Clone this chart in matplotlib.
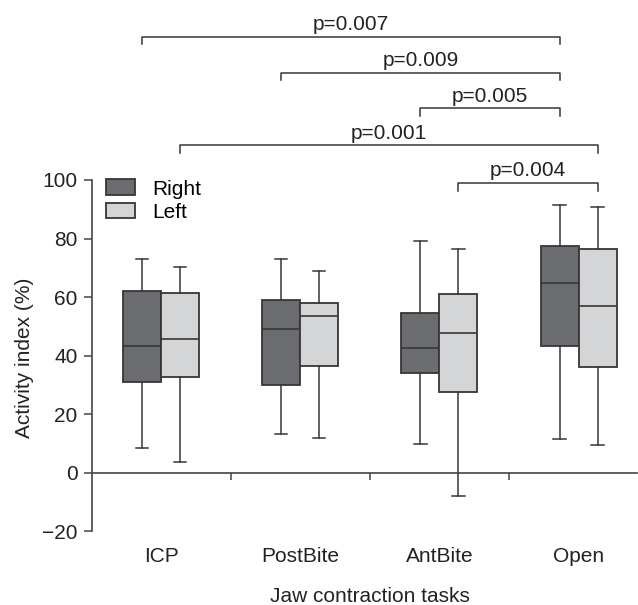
import matplotlib
matplotlib.use("Agg")
import matplotlib.pyplot as plt
import matplotlib.patches as mpatches

plt.rcParams['font.family'] = ['Liberation Sans', 'DejaVu Sans']

# --- data ---
categories = ['ICP', 'PostBite', 'AntBite', 'Open']

right_whislo = [8.5, 13.3, 9.8, 11.6]
right_q1 = [31.1, 30.0, 33.9, 43.2]
right_med = [43.2, 49.2, 42.7, 64.7]
right_q3 = [62.1, 59.1, 54.5, 77.6]
right_whishi = [73.0, 73.1, 79.3, 91.3]

left_whislo = [3.8, 11.7, -7.9, 9.4]
left_q1 = [32.7, 36.6, 27.6, 36.1]
left_med = [45.6, 53.4, 47.8, 57.1]
left_q3 = [61.4, 57.9, 61.2, 76.5]
left_whishi = [70.2, 68.8, 76.5, 90.7]

# significance brackets: (category, side) -> (category, side)
p_labels = ['p=0.007', 'p=0.009', 'p=0.005', 'p=0.001', 'p=0.004']
p_start = [(0, 'R'), (1, 'R'), (2, 'R'), (0, 'L'), (2, 'L')]
p_end = [(3, 'R'), (3, 'R'), (3, 'R'), (3, 'L'), (3, 'L')]
p_level = [149.0, 136.7, 124.5, 111.8, 99.0]

# --- styling ---
DARK = '#6b6c70'
LIGHT = '#d4d5d7'
LINE = '#363636'
FS = 15
OFF = 0.1365
BW = 0.273


def stats(lo, q1, med, q3, hi):
    return [dict(whislo=a, q1=b, med=c, q3=d, whishi=e, fliers=[])
            for a, b, c, d, e in zip(lo, q1, med, q3, hi)]


fig = plt.figure(figsize=(6.38, 6.05), dpi=100)
ax = fig.add_axes([91.5 / 638, 73.8 / 605, 545.5 / 638, 531.2 / 605])

xs = list(range(len(categories)))
for st, shift, col in [(stats(right_whislo, right_q1, right_med, right_q3, right_whishi), -OFF, DARK),
                       (stats(left_whislo, left_q1, left_med, left_q3, left_whishi), OFF, LIGHT)]:
    ax.bxp(st, positions=[x + shift for x in xs], widths=BW, patch_artist=True,
           showfliers=False, capwidths=0.088,
           boxprops=dict(facecolor=col, edgecolor=LINE, linewidth=1.3),
           medianprops=dict(color=LINE, linewidth=1.2),
           whiskerprops=dict(color=LINE, linewidth=1.1),
           capprops=dict(color=LINE, linewidth=1.1))

# brackets
side_shift = {'R': -OFF, 'L': OFF}
drop = 2.6
for lab, s, e, y in zip(p_labels, p_start, p_end, p_level):
    x0 = s[0] + side_shift[s[1]]
    x1 = e[0] + side_shift[e[1]]
    ax.plot([x0, x0, x1, x1], [y - drop, y, y, y - drop], color=LINE,
            linewidth=1.1, clip_on=False)
    ax.text((x0 + x1) / 2, y + 0.9, lab, ha='center', va='bottom', fontsize=FS,
            color='#222222')

# axes
ax.set_xlim(-0.5, 3.42)
ax.set_ylim(-20, 161.5)
ax.spines['top'].set_visible(False)
ax.spines['right'].set_visible(False)
ax.spines['left'].set_bounds(-20, 100)
ax.spines['bottom'].set_position(('data', 0))
for sp in ['left', 'bottom']:
    ax.spines[sp].set_color('#444444')
    ax.spines[sp].set_linewidth(1.2)

ax.set_yticks([-20, 0, 20, 40, 60, 80, 100])
ax.tick_params(axis='y', length=6, width=1.1, direction='out', pad=4,
               labelsize=FS, colors='#444444', labelcolor='#222222')
ax.set_xticks([0.5, 1.5, 2.5])
ax.set_xticklabels([])
ax.tick_params(axis='x', length=5, width=1.1, direction='out', colors='#444444')

for x, c in zip(xs, categories):
    ax.text(x, -28.5, c, ha='center', va='center', fontsize=FS, color='#222222')
ax.text(1.5, -42.3, 'Jaw contraction tasks', ha='center', va='center',
        fontsize=FS, color='#222222', clip_on=False)

ax.set_ylabel('Activity index (%)', fontsize=FS, color='#222222')
ax.yaxis.set_label_coords(-0.105, 0.326)

handles = [mpatches.Patch(facecolor=DARK, edgecolor=LINE, linewidth=1.3, label='Right'),
           mpatches.Patch(facecolor=LIGHT, edgecolor=LINE, linewidth=1.3, label='Left')]
ax.legend(handles=handles, loc='upper left', bbox_to_anchor=(106 / 638, 1 - 179.5 / 605),
          bbox_transform=fig.transFigure, frameon=False, fontsize=FS,
          handlelength=1.4, handleheight=0.77, handletextpad=0.8,
          labelspacing=0.2, borderpad=0, borderaxespad=0)

fig.savefig('out.png', dpi=100)
